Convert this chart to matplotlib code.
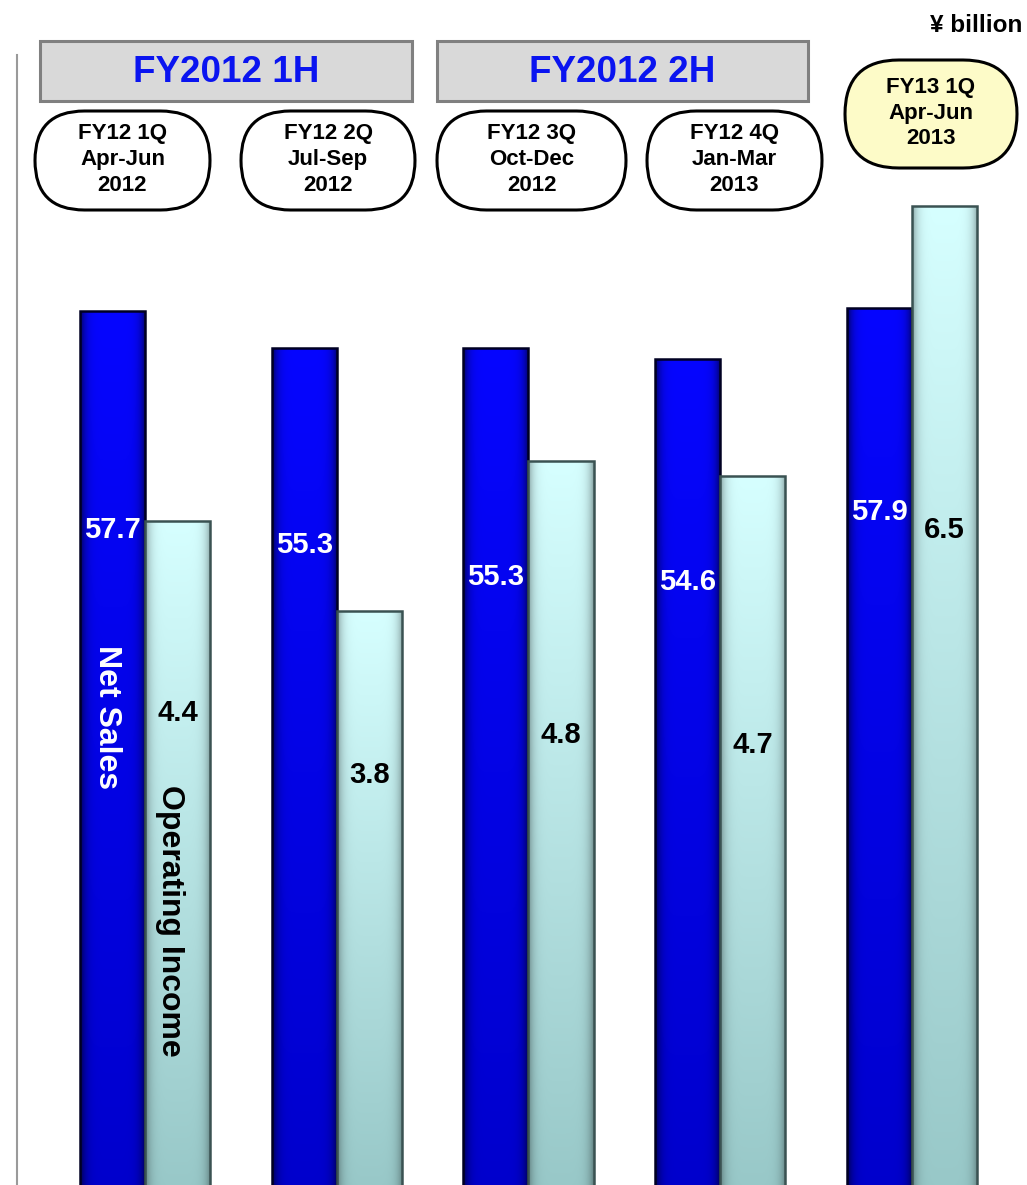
"""Quarterly net sales and operating income, FY12 1Q - FY13 1Q (¥ billion)."""

import matplotlib
matplotlib.use("Agg")
import matplotlib.pyplot as plt
import numpy as np
from matplotlib.colors import to_rgb
from matplotlib.patches import FancyBboxPatch, Rectangle

# data
quarters = ["FY12 1Q\nApr-Jun\n2012", "FY12 2Q\nJul-Sep\n2012", "FY12 3Q\nOct-Dec\n2012",
            "FY12 4Q\nJan-Mar\n2013", "FY13 1Q\nApr-Jun\n2013"]
halves = ["FY2012 1H", "FY2012 2H"]
net_sales = [57.7, 55.3, 55.3, 54.6, 57.9]
op_income = [4.4, 3.8, 4.8, 4.7, 6.5]

# label heights (axes fraction), as placed in the original slide
ns_label_y = [0.553, 0.540, 0.513, 0.509, 0.568]
oi_label_y = [0.398, 0.346, 0.380, 0.371, 0.553]

W, H = 1027, 1185
NARROW = ["Liberation Sans Narrow", "Liberation Sans", "DejaVu Sans"]
SANS = ["Liberation Sans", "DejaVu Sans"]


def gradient_bars(ax, bars, top, bottom, edge_dark=0.25):
    top, bottom = np.array(to_rgb(top)), np.array(to_rgb(bottom))
    t = np.linspace(0, 1, 200)[:, None, None]
    u = np.linspace(-1, 1, 60)[None, :, None]
    shade = 1 - edge_dark * np.abs(u) ** 6
    img = np.clip((bottom + (top - bottom) * t) * shade, 0, 1)
    for b in bars:
        x0, y0, w, h = b.get_x(), b.get_y(), b.get_width(), b.get_height()
        im = ax.imshow(img, extent=[x0, x0 + w, y0, y0 + h], origin="lower",
                       aspect="auto", zorder=2, interpolation="bilinear")
        im.set_clip_path(b)


fig = plt.figure(figsize=(W / 100, H / 100), dpi=100)
ax = fig.add_axes([0, 0, 1, 1])
ax2 = ax.twinx()

x = np.arange(len(net_sales))
bw = 0.34
# the slide crops the bars at the bottom, so start them just below zero
ns_base, oi_base = -0.5, -0.05
ns_h = np.array(net_sales) - ns_base
oi_h = np.array(op_income) - oi_base
ns_bars = ax.bar(x - bw / 2, ns_h, bw, bottom=ns_base, color="#0000ee", zorder=2)
oi_bars = ax2.bar(x + bw / 2, oi_h, bw, bottom=oi_base, color="#c8f4f4", zorder=2)
gradient_bars(ax, ns_bars, "#0606ff", "#0000cc", edge_dark=0.6)
gradient_bars(ax2, oi_bars, "#d6ffff", "#98c8c8", edge_dark=0.35)
ax.bar(x - bw / 2, ns_h, bw, bottom=ns_base, fill=False, edgecolor="#000022",
       linewidth=1.8, zorder=3)
ax2.bar(x + bw / 2, oi_h, bw, bottom=oi_base, fill=False, edgecolor="#3a5252",
        linewidth=1.8, zorder=3)

xl = (-0.756, 4.60)
ax.set_xlim(*xl)
ax2.set_xlim(*xl)
ax.set_ylim(0.2, 78.2)
ax2.set_ylim(-0.03, 7.87)
for a in (ax, ax2):
    a.axis("off")

for i in range(len(net_sales)):
    ax.text(x[i] - bw / 2, ns_label_y[i], f"{net_sales[i]:.1f}", transform=ax.get_xaxis_transform(),
            ha="center", va="center", color="white", fontsize=21, fontweight="bold",
            family=NARROW, zorder=5)
    ax2.text(x[i] + bw / 2, oi_label_y[i], f"{op_income[i]:.1f}", transform=ax2.get_xaxis_transform(),
             ha="center", va="center", color="black", fontsize=21, fontweight="bold",
             family=NARROW, zorder=5)

# series names written inside the first pair of bars
ax.text(x[0] - bw / 2 - 0.03, 0.395, "Net Sales", transform=ax.get_xaxis_transform(),
        rotation=-90, ha="center", va="center", color="white", fontsize=23,
        fontweight="bold", family=SANS, zorder=5)
ax2.text(x[0] + bw / 2 - 0.04, 0.223, "Operating Income", transform=ax2.get_xaxis_transform(),
         rotation=-90, ha="center", va="center", color="black", fontsize=23,
         fontweight="bold", family=SANS, zorder=5)

# overlay in pixel units for the slide decorations
ov = fig.add_axes([0, 0, 1, 1], zorder=10)
ov.set_xlim(0, W)
ov.set_ylim(H, 0)
ov.axis("off")
ov.patch.set_alpha(0)

ov.plot([17, 17], [55, H], color="#9a9a9a", linewidth=1.5)
ov.text(1022, 25, "¥ billion", ha="right", va="center", fontsize=17.5,
        fontweight="bold", family=SANS)

for (x0, x1), name in zip([(40, 412), (437, 808)], halves):
    ov.add_patch(Rectangle((x0, 41), x1 - x0, 60, facecolor="#d9d9d9",
                           edgecolor="#808080", linewidth=2.2))
    ov.text((x0 + x1) / 2, 73, name, ha="center", va="center", color="#0a14f0",
            fontsize=26.5, fontweight="bold", family=SANS)

pills = [(35, 210, 111, 210), (241, 415, 111, 210), (437, 626, 111, 210),
         (647, 822, 111, 210), (845, 1017, 60, 168)]
for i, (x0, x1, y0, y1) in enumerate(pills):
    h = y1 - y0
    fc = "#fdfbc8" if i == len(pills) - 1 else "white"
    ov.add_patch(FancyBboxPatch((x0, y0), x1 - x0, h,
                                boxstyle=f"round,pad=0,rounding_size={h / 2}",
                                facecolor=fc, edgecolor="black", linewidth=2.2))
    ov.text((x0 + x1) / 2, (y0 + y1) / 2 - 1, quarters[i], ha="center", va="center",
            fontsize=16, fontweight="bold", family=NARROW, linespacing=1.3)

fig.savefig("out.png", dpi=100)
plt.close(fig)
